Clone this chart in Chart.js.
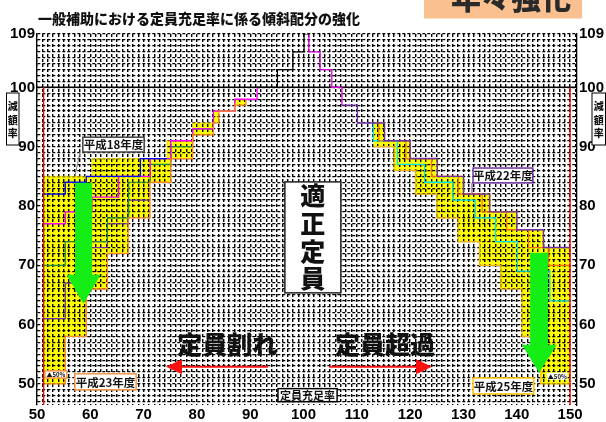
<!DOCTYPE html>
<html><head><meta charset="utf-8">
<script src="https://cdn.jsdelivr.net/npm/chart.js@4/dist/chart.umd.min.js"></script>
<style>html,body{margin:0;padding:0;background:#fff;}canvas{display:block}</style>
</head><body>
<canvas id="c" width="606" height="422"></canvas>
<script>
// ---------- data ----------
const xTickLabels = [50,60,70,80,90,100,110,120,130,140,150];
const yTickLabels = [50,60,70,80,90,100,109];

// yellow band (left): value held from x[i] to x[i+1]
const bandLeftX   = [51.25,55.3,59.25,60.3,63.2,67.1,71.2,74.4,75.1,79.2,83.1,84.1,87.1,89.2];
const bandLeftTop = [85,85,85,88,88,88,88,91,91,94,96,96,98,98];
const bandLeftBot = [50,58,66,66,72,78,84,84,88,92,94,96,97,98];
// yellow band (right)
const bandRightX   = [113.1,115.2,117,120,121,125,129,130,133,135,137,140,141,144.5,145,150];
const bandRightTop = [94,91,91,88,88,85,85,82,82,79,79,76,76,76,73,73];
const bandRightBot = [90,90,86,86,82,78,74,74,70,70,66,66,58,50,50,50];

// step lines
const peakX = [91.3,95.1,98,100.1,101];
const peakY = [100,103,106,109,109];
const magentaX = [51.25,55.3,60.3,65.3,71.25,75.1,79.2,83.1,87.1,91.3];
const magentaY = [77,79,81.5,85,88,91,93,96,98,100];
const magentaRX = [101,101,103.1,105.3,107.2];
const magentaRY = [109,106,103,100,97];
const blueX = [51.25,55.3,59.25,69.4,74.4];
const blueY = [82,84,85,88,88];
const greenX = [51.25,55.3,63.2,67.2,71.25,75.1,79.2,83.1];
const greenY = [70,74,78,84,87,90,93,93];
const purpleX = [51.25,55.3,59.25,63.2,67.1,71.2];
const purpleY = [61,67,73,77,81,81];
const purpleRX = [107.2,110.1,115.2,120,125.1,130,134.9,140,145,150];
const purpleRY = [97,94,91,88,85,82,79,76,73,73];
const orangeRX = [114.1,114.1,119.2,124,129,133.5,138.1,142.2,145.9,150];
const orangeRY = [94,91,88,85,82,79,76,73,70,70];
const cyanX = [113.1,113.1,117.6,122.7,128,132.2,136,140.1,146.2,150];
const cyanY = [94,91,87,84,81,78,74,69,64,64];
const redLineX = [51.25,150];
const baseLineY = 100;

// ---------- axes ----------
const X_MIN = 50, X_MAX = 151.3, Y_MIN = 46.44, Y_MAX = 109;
const gridX = []; for (let v = 50; v <= 151; v++) gridX.push(v);
const gridY = []; for (let v = 47; v <= 109; v++) gridY.push(v);

const pts = (xs, ys) => xs.map((x, i) => ({x, y: ys[i]}));
const stepDs = (xs, ys, color, w, order) => ({
  data: pts(xs, ys), borderColor: color, borderWidth: w, stepped: true,
  pointRadius: 0, fill: false, order, yAxisID: 'y'
});

const datasets = [
  {data: pts(bandLeftX, bandLeftTop), borderColor: '#F2CF00', borderWidth: 0.8, stepped: true, pointRadius: 0,
   fill: '+1', backgroundColor: '#FFFF00', order: 20, yAxisID: 'y'},
  stepDs(bandLeftX, bandLeftBot, '#FF8A1C', 1.3, 5),
  {data: pts(bandRightX, bandRightTop), borderColor: '#F2CF00', borderWidth: 0.8, stepped: true, pointRadius: 0,
   fill: '+1', backgroundColor: '#FFFF00', order: 20, yAxisID: 'y'},
  stepDs(bandRightX, bandRightBot, '#F5B400', 1.2, 6),
  stepDs(purpleX, purpleY, '#7030A0', 1.2, 9),
  stepDs(greenX, greenY, '#1E8C3A', 1.2, 8),
  stepDs(magentaX, magentaY, '#FF00FF', 1.3, 7),
  stepDs(blueX, blueY, '#0000FF', 1.3, 4),
  stepDs(peakX, peakY, '#000000', 1.2, 3),
  stepDs(magentaRX, magentaRY, '#E000E0', 1.3, 3),
  stepDs(purpleRX, purpleRY, '#7030A0', 1.4, 2),
  stepDs(orangeRX, orangeRY, '#FF6A00', 1.2, 3),
  stepDs(cyanX, cyanY, '#00E5E5', 1.3, 4),
  {data: [{x: X_MIN, y: baseLineY}, {x: X_MAX, y: baseLineY}], borderColor: '#000', borderWidth: 1.5,
   pointRadius: 0, fill: false, order: 10, yAxisID: 'y'},
  ...redLineX.map(xv => ({data: [{x: xv, y: baseLineY}, {x: xv, y: Y_MIN}], borderColor: '#FF0000',
   borderWidth: 1.3, pointRadius: 0, fill: false, order: 1, yAxisID: 'y'}))
];

// ---------- annotations (data units) ----------
const notes = [
  {text:'平成18年度', x1:58.6, x2:70.1, y1:91.6, y2:89.1, border:'#404040', size:11.5},
  {text:'平成23年度', x1:57.1, x2:68.6, y1:51.7, y2:49.0, border:'#F79646', size:11.5},
  {text:'平成22年度', x1:131.8, x2:143.0, y1:86.4, y2:83.9, border:'#7030A0', size:11.5},
  {text:'平成25年度', x1:131.8, x2:143.2, y1:51.0, y2:48.3, border:'#FFC000', size:11.5},
  {text:'▲50%', x1:51.5, x2:55.6, y1:52.2, y2:51.0, border:'#F79646', size:6},
  {text:'▲50%', x1:145.7, x2:149.5, y1:51.9, y2:50.7, border:null, size:6},
  {text:'定員充足率', x1:95.2, x2:106.3, y1:49.2, y2:47.0, border:'#000', size:11}
];
const pointers = [
  {x1:58.07, y1:89.1, x2:57.13, y2:85.07, color:'#808080'},
  {x1:131.6, y1:83.9, x2:131.6, y2:82.2, color:'#7030A0'}
];
const bigTexts = [
  {text:'定員割れ', x:85.7, y:56.6},
  {text:'定員超過', x:115.3, y:56.6}
];
const vBox = {text:'適正定員', x1:96.5, x2:107, y1:84.06, y2:65.35};
const redArrows = [{from:93.3, to:74.2, y:52.87}, {from:104.8, to:124.1, y:52.87}];
const greenArrows = [
  {sx1:57.13, sx2:60.32, top:83.9, hb:68.4, hx1:55.57, hx2:61.95, tip:63.5},
  {sx1:142.5, sx2:145.86, top:72.1, hb:56.6, hx1:140.97, hx2:147.5, tip:51.86}
];

const JP = "'Noto Sans CJK JP','Noto Sans CJK SC',sans-serif";

const annPlugin = {
  id: 'ann',
  afterDatasetsDraw(chart) {
    const ctx = chart.ctx, xs = chart.scales.x, ys = chart.scales.y;
    const X = v => xs.getPixelForValue(v), Y = v => ys.getPixelForValue(v);
    ctx.save();
    ctx.fillStyle = '#14EE14';
    greenArrows.forEach(a => {
      const tipX = (X(a.sx1) + X(a.sx2)) / 2;
      ctx.beginPath();
      ctx.moveTo(X(a.sx1), Y(a.top)); ctx.lineTo(X(a.sx2), Y(a.top));
      ctx.lineTo(X(a.sx2), Y(a.hb)); ctx.lineTo(X(a.hx2), Y(a.hb));
      ctx.lineTo(tipX, Y(a.tip)); ctx.lineTo(X(a.hx1), Y(a.hb));
      ctx.lineTo(X(a.sx1), Y(a.hb)); ctx.closePath(); ctx.fill();
    });
    redArrows.forEach(a => {
      const x0 = X(a.from), x1 = X(a.to), yy = Y(a.y), d = Math.sign(x1 - x0);
      ctx.strokeStyle = '#FF1010'; ctx.lineWidth = 2;
      ctx.beginPath(); ctx.moveTo(x0, yy); ctx.lineTo(x1 - d * 14, yy); ctx.stroke();
      ctx.fillStyle = '#FF1010';
      ctx.beginPath(); ctx.moveTo(x1, yy); ctx.lineTo(x1 - d * 16, yy - 7.5); ctx.lineTo(x1 - d * 16, yy + 7.5);
      ctx.closePath(); ctx.fill();
    });
    pointers.forEach(p => {
      ctx.strokeStyle = p.color; ctx.lineWidth = 1;
      ctx.beginPath(); ctx.moveTo(X(p.x1), Y(p.y1)); ctx.lineTo(X(p.x2), Y(p.y2)); ctx.stroke();
    });
    ctx.textAlign = 'center'; ctx.textBaseline = 'middle';
    notes.forEach(n => {
      const l = X(n.x1), r = X(n.x2), t = Y(n.y1), b = Y(n.y2);
      ctx.fillStyle = '#fff'; ctx.fillRect(l, t, r - l, b - t);
      if (n.border) { ctx.strokeStyle = n.border; ctx.lineWidth = 1.5; ctx.strokeRect(l, t, r - l, b - t); }
      ctx.fillStyle = '#111';
      ctx.font = `bold ${n.size}px ${JP}`;
      ctx.fillText(n.text, (l + r) / 2, (t + b) / 2 + 0.5);
    });
    ctx.font = `900 25px ${JP}`; ctx.fillStyle = '#111';
    bigTexts.forEach(t => ctx.fillText(t.text, X(t.x), Y(t.y)));
    {
      const l = X(vBox.x1), r = X(vBox.x2), t = Y(vBox.y1), b = Y(vBox.y2);
      ctx.fillStyle = '#fff'; ctx.fillRect(l, t, r - l, b - t);
      ctx.strokeStyle = '#222'; ctx.lineWidth = 1.5; ctx.strokeRect(l, t, r - l, b - t);
      ctx.fillStyle = '#111'; ctx.font = `900 25px ${JP}`;
      const chars = [...vBox.text], step = (b - t) / chars.length;
      chars.forEach((c, i) => ctx.fillText(c, (l + r) / 2, t + step * (i + 0.5)));
    }
    ctx.restore();
  },
  afterDraw(chart) {
    const ctx = chart.ctx;
    ctx.save();
    ctx.fillStyle = '#111'; ctx.textAlign = 'left'; ctx.textBaseline = 'middle';
    ctx.font = `900 14px ${JP}`;
    ctx.fillText('一般補助における定員充足率に係る傾斜配分の強化', 38, 19);
    ctx.fillStyle = '#FAC090'; ctx.fillRect(424, 0, 158, 18.5);
    ctx.fillStyle = '#2a2a2a'; ctx.textAlign = 'center'; ctx.textBaseline = 'alphabetic';
    ctx.font = `900 30px ${JP}`;
    ctx.fillText('年々強化', 511, 9);
    [[6.5, 12.5], [592, 13.5]].forEach(([bx, bw]) => {
      ctx.fillStyle = '#fff'; ctx.fillRect(bx, 93, bw, 52);
      ctx.strokeStyle = '#000'; ctx.lineWidth = 1; ctx.strokeRect(bx, 93, bw, 52);
      ctx.fillStyle = '#111'; ctx.textBaseline = 'middle'; ctx.font = `900 10px ${JP}`;
      ['減','額','率'].forEach((c, i) => ctx.fillText(c, bx + bw / 2, 106.7 + 13.3 * i));
    });
    ctx.restore();
  }
};

const tickFont = {family: "'Liberation Sans Narrow','Liberation Sans',Arial,sans-serif", size: 15, weight: 'bold'};

new Chart(document.getElementById('c'), {
  type: 'line',
  data: {datasets},
  options: {
    responsive: false, animation: false,
    layout: {padding: {top: 34, left: 0, right: 0, bottom: 0}},
    plugins: {legend: {display: false}, tooltip: {enabled: false}, filler: {drawTime: 'beforeDraw'}},
    scales: {
      x: {
        type: 'linear', min: X_MIN, max: X_MAX,
        afterBuildTicks: s => { s.ticks = gridX.map(v => ({value: v})); },
        afterFit: s => { s.height = 17; },
        ticks: {autoSkip: false, maxRotation: 0, padding: 1, color: '#000', font: tickFont,
          callback: v => xTickLabels.includes(v) ? String(v) : ''},
        grid: {color: '#000', lineWidth: 1.4, drawTicks: false},
        border: {display: false, dash: [3, 2]}
      },
      y: {
        type: 'linear', position: 'left', min: Y_MIN, max: Y_MAX,
        afterBuildTicks: s => { s.ticks = gridY.map(v => ({value: v})); },
        afterFit: s => { s.width = 37; },
        ticks: {autoSkip: false, padding: 2, color: '#000', font: tickFont,
          callback: v => yTickLabels.includes(v) ? String(v) : ''},
        grid: {color: '#000', lineWidth: 1.3, drawTicks: false},
        border: {display: true, color: '#000', width: 1.3, dash: [3, 2]}
      },
      y2: {
        type: 'linear', position: 'right', min: Y_MIN, max: Y_MAX,
        afterBuildTicks: s => { s.ticks = gridY.map(v => ({value: v})); },
        afterFit: s => { s.width = 29; },
        ticks: {autoSkip: false, padding: 2, color: '#000', font: tickFont,
          callback: v => yTickLabels.includes(v) ? String(v) : ''},
        grid: {display: false, drawTicks: false},
        border: {display: true, color: '#000', width: 1.3}
      }
    }
  },
  plugins: [annPlugin]
});
</script>
</body></html>
